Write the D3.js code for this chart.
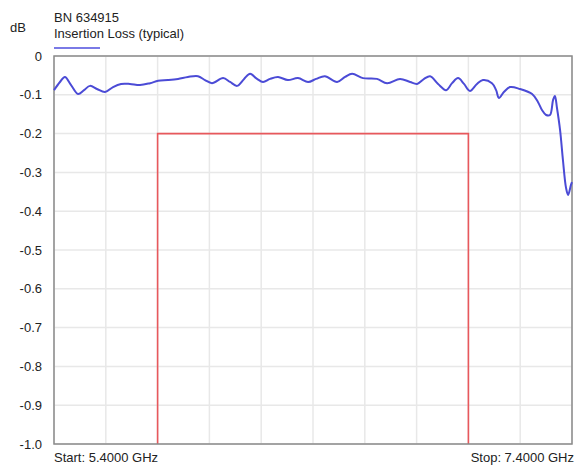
<!DOCTYPE html>
<html><head><meta charset="utf-8">
<script src="https://cdn.jsdelivr.net/npm/d3@7"></script>
<style>body{margin:0;background:#fff}svg{display:block;font-family:"Liberation Sans",Arial,sans-serif}</style>
</head><body><svg id="c" width="575" height="466"></svg>
<script>
const freqGHz = [5.400,5.423,5.442,5.466,5.493,5.516,5.539,5.566,5.597,5.628,5.659,5.693,5.732,5.771,5.802,5.840,5.879,5.917,5.956,5.983,6.010,6.053,6.080,6.107,6.134,6.157,6.184,6.207,6.234,6.265,6.303,6.342,6.381,6.412,6.446,6.493,6.524,6.551,6.593,6.647,6.686,6.736,6.775,6.802,6.829,6.852,6.883,6.914,6.937,6.960,6.983,7.006,7.033,7.056,7.091,7.107,7.118,7.137,7.161,7.199,7.246,7.269,7.284,7.300,7.315,7.327,7.334,7.342,7.354,7.365,7.377,7.385,7.396,7.400];
const lossDb = [-0.088,-0.067,-0.054,-0.075,-0.098,-0.088,-0.077,-0.085,-0.093,-0.080,-0.072,-0.072,-0.075,-0.070,-0.064,-0.062,-0.059,-0.054,-0.052,-0.062,-0.070,-0.057,-0.067,-0.077,-0.059,-0.046,-0.059,-0.067,-0.059,-0.054,-0.062,-0.057,-0.067,-0.059,-0.052,-0.067,-0.054,-0.046,-0.057,-0.059,-0.070,-0.059,-0.067,-0.072,-0.059,-0.052,-0.072,-0.088,-0.070,-0.057,-0.072,-0.090,-0.072,-0.062,-0.070,-0.088,-0.108,-0.093,-0.080,-0.085,-0.098,-0.119,-0.139,-0.152,-0.152,-0.113,-0.103,-0.134,-0.191,-0.268,-0.340,-0.358,-0.332,-0.325];
const maskFreq = [5.8,5.8,7.0,7.0];
const maskDb = [-1.0,-0.2,-0.2,-1.0];
const yTicks = [0,-0.1,-0.2,-0.3,-0.4,-0.5,-0.6,-0.7,-0.8,-0.9,-1.0];
const yTickLabels = ["0","-0.1","-0.2","-0.3","-0.4","-0.5","-0.6","-0.7","-0.8","-0.9","-1.0"];
const xGrid = [5.4,5.6,5.8,6.0,6.2,6.4,6.6,6.8,7.0,7.2,7.4];
const title1 = "BN 634915", title2 = "Insertion Loss (typical)";
const unitLabel = "dB", startLabel = "Start: 5.4000 GHz", stopLabel = "Stop: 7.4000 GHz";

const svg = d3.select("#c");
const L=54,R=572,T=56,B=444;
const x = d3.scaleLinear().domain([5.4,7.4]).range([L,R]);
const y = d3.scaleLinear().domain([0,-1]).range([T,B]);

// grid
svg.append("g").selectAll("line").data(xGrid).join("line")
  .attr("x1",d=>x(d)).attr("x2",d=>x(d)).attr("y1",T).attr("y2",B)
  .attr("stroke","#e8e8e8").attr("stroke-width",1.5);
svg.append("g").selectAll("line").data(yTicks).join("line")
  .attr("x1",L).attr("x2",R).attr("y1",d=>y(d)).attr("y2",d=>y(d))
  .attr("stroke","#e8e8e8").attr("stroke-width",1.5);

// y axis labels
const yAxis = d3.axisLeft(y).tickValues(yTicks).tickFormat((d,i)=>yTickLabels[i]).tickSize(0).tickPadding(12);
const ga = svg.append("g").attr("transform",`translate(${L},0)`).call(yAxis);
ga.select(".domain").remove();
ga.selectAll("text").attr("font-size",13).attr("fill","#222").attr("font-family","'Liberation Sans',Arial,sans-serif");

// mask
const line = d3.line().x(d=>x(d[0])).y(d=>y(d[1]));
svg.append("path").datum(maskFreq.map((f,i)=>[f,maskDb[i]]))
  .attr("d",line).attr("fill","none").attr("stroke","#e8585c").attr("stroke-width",1.6);

// border
svg.append("rect").attr("x",L).attr("y",T).attr("width",R-L).attr("height",B-T)
  .attr("fill","none").attr("stroke","#8a8a8a").attr("stroke-width",1.5);

// curve
svg.append("path").datum(freqGHz.map((f,i)=>[f,lossDb[i]]))
  .attr("d",line.curve(d3.curveCatmullRom.alpha(0.5))).attr("fill","none")
  .attr("stroke","#4b4bd6").attr("stroke-width",2).attr("stroke-linejoin","round");

// legend
svg.append("line").attr("x1",54).attr("x2",100).attr("y1",48).attr("y2",48)
  .attr("stroke","#7a7ae6").attr("stroke-width",2.2);
svg.append("text").attr("x",54).attr("y",22).attr("font-size",13).attr("fill","#222").text(title1);
svg.append("text").attr("x",54).attr("y",38).attr("font-size",13).attr("fill","#222").text(title2);
svg.append("text").attr("x",10).attr("y",32).attr("font-size",13).attr("fill","#222").text(unitLabel);
svg.append("text").attr("x",54).attr("y",462).attr("font-size",13).attr("fill","#222").text(startLabel);
svg.append("text").attr("x",574).attr("y",462).attr("text-anchor","end").attr("font-size",13).attr("fill","#222").text(stopLabel);
</script></body></html>
